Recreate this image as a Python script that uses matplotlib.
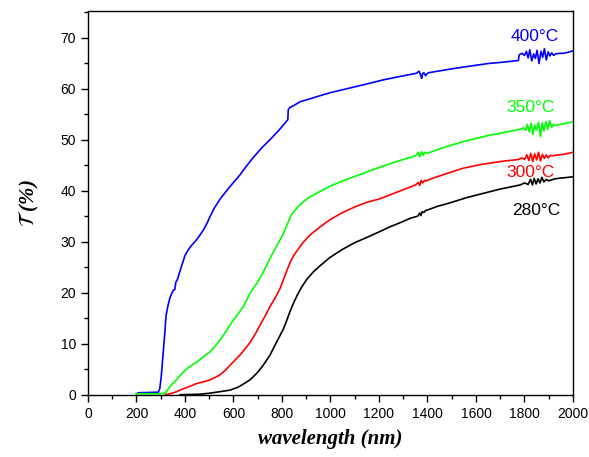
import matplotlib
matplotlib.use('Agg')
import matplotlib.pyplot as plt
from matplotlib.ticker import MultipleLocator

plt.rc('font', family='Liberation Sans')
plt.rc('mathtext', fontset='stix')

# 400 C film
x_400 = [200, 210, 220, 290, 296, 302, 308, 315, 322, 330, 338, 345, 352, 358, 362, 370, 379, 390, 400, 415,
         428, 445, 462, 476, 490, 503, 520, 544, 572, 600, 627, 655, 682, 715, 751, 785, 819, 824, 826, 833,
         850, 874, 910, 943, 1000, 1080, 1150, 1218, 1290, 1355, 1365, 1372, 1376, 1380, 1385, 1392, 1398, 1405,
         1430, 1493, 1562, 1650, 1720, 1775, 1778, 1790, 1800, 1808, 1815, 1822, 1830, 1838, 1845, 1852, 1860,
         1868, 1875, 1882, 1890, 1898, 1905, 1912, 1920, 1930, 1945, 1960, 1980, 2000]
T_400 = [0.2, 0.4, 0.4, 0.5, 1.2, 3.5, 7, 11, 15.5, 17.5, 19, 19.8, 20.5, 20.6, 22, 22.7, 24.2, 25.8, 27.3, 28.5,
         29.3, 30.2, 31.3, 32.3, 33.5, 34.9, 36.5, 38.3, 40.0, 41.6, 43.1, 44.9, 46.5, 48.3, 50.0, 51.7, 53.6, 53.9, 55.9, 56.3,
         56.7, 57.4, 57.9, 58.4, 59.2, 60.1, 60.9, 61.7, 62.4, 63.0, 63.4, 62.6, 62.0, 62.9, 63.1, 62.5, 62.9, 63.1,
         63.3, 63.8, 64.3, 64.9, 65.2, 65.5, 66.6, 66.9, 66.5, 67.3, 66.0, 67.6, 65.4, 66.8, 65.9, 67.5, 64.9,
         67.3, 66.1, 67.8, 65.6, 67.2, 66.4, 67.0, 66.5, 66.8, 66.9, 66.9, 67.1, 67.4]

# 350 C film
x_350 = [200, 250, 300, 318, 328, 338, 349, 359, 369, 379, 390, 405, 428, 445, 462, 480, 503, 520, 544, 565,
         586, 612, 641, 668, 696, 723, 751, 779, 806, 826, 840, 867, 890, 916, 960, 1000, 1067, 1130, 1204, 1280,
         1350, 1362, 1368, 1375, 1382, 1390, 1400, 1450, 1548, 1650, 1750, 1782, 1795, 1805, 1812, 1820, 1828,
         1835, 1842, 1850, 1858, 1866, 1873, 1880, 1888, 1896, 1904, 1912, 1920, 1930, 1950, 1975, 2000]
T_350 = [0.2, 0.2, 0.2, 0.3, 0.9, 1.6, 2.2, 2.6, 3.2, 3.7, 4.3, 5.0, 5.8, 6.3, 6.9, 7.6, 8.4, 9.3, 10.7, 12.1,
         13.7, 15.4, 17.3, 19.9, 21.8, 24.0, 26.8, 29.2, 31.6, 33.9, 35.4, 36.9, 37.9, 38.8, 39.9, 40.9, 42.2, 43.3, 44.6, 45.8,
         46.8, 47.5, 46.6, 47.6, 46.9, 47.5, 47.3, 48.2, 49.6, 50.8, 51.7, 52.0, 52.3, 51.8, 53.0, 51.5, 53.2,
         51.0, 52.8, 51.9, 53.4, 50.6, 53.3, 51.7, 53.5, 52.0, 53.7, 52.4, 52.9, 52.8, 53.0, 53.2, 53.5]

# 300 C film
x_300 = [320, 340, 366, 385, 407, 428, 448, 475, 503, 525, 544, 565, 586, 607, 627, 648, 668, 690, 709, 730,
         751, 772, 792, 812, 833, 850, 874, 888, 916, 960, 998, 1050, 1100, 1150, 1204, 1280, 1350, 1362, 1368,
         1374, 1380, 1388, 1395, 1420, 1470, 1548, 1620, 1700, 1775, 1790, 1800, 1810, 1818, 1826, 1834, 1842,
         1850, 1858, 1866, 1874, 1882, 1890, 1898, 1906, 1915, 1925, 1940, 1960, 1980, 2000]
T_300 = [0.0, 0.2, 0.6, 1.0, 1.4, 1.8, 2.2, 2.5, 2.9, 3.4, 3.9, 4.7, 5.8, 6.8, 7.8, 9.0, 10.2, 11.9, 13.6, 15.4,
         17.3, 19.0, 20.8, 23.3, 25.9, 27.4, 29.0, 29.9, 31.3, 33.0, 34.3, 35.7, 36.8, 37.7, 38.4, 39.8, 41.1, 41.6, 41.0,
         42.0, 41.5, 42.0, 41.9, 42.4, 43.2, 44.4, 45.1, 45.7, 46.1, 46.4, 46.1, 47.0, 45.9, 47.3, 45.7, 47.2,
         46.0, 47.5, 45.8, 47.1, 46.3, 47.0, 46.4, 46.9, 46.8, 46.9, 47.0, 47.1, 47.3, 47.5]

# 280 C film
x_280 = [380, 420, 460, 503, 545, 586, 620, 641, 668, 696, 720, 737, 751, 770, 792, 806, 820, 833, 847, 865,
         880, 902, 930, 960, 998, 1050, 1100, 1149, 1200, 1250, 1287, 1330, 1360, 1368, 1373, 1378, 1385, 1392,
         1400, 1440, 1493, 1560, 1617, 1700, 1782, 1800, 1815, 1825, 1833, 1840, 1848, 1856, 1864, 1872, 1880,
         1890, 1900, 1912, 1925, 1940, 1960, 1980, 2000]
T_280 = [0.0, 0.05, 0.1, 0.3, 0.6, 0.9, 1.5, 2.1, 2.9, 4.2, 5.6, 6.8, 7.8, 9.6, 11.6, 12.9, 14.6, 16.3, 17.9, 19.7,
         21.0, 22.6, 24.1, 25.4, 26.9, 28.5, 29.8, 30.8, 31.9, 33.0, 33.7, 34.6, 35.0, 35.6, 35.1, 35.9, 35.7, 36.1,
         36.2, 36.9, 37.6, 38.6, 39.3, 40.3, 41.1, 41.5, 41.2, 42.2, 41.1, 42.4, 41.3, 42.3, 41.5, 42.6, 41.7,
         42.2, 41.9, 42.1, 42.3, 42.4, 42.5, 42.6, 42.7]

labels = ['400°C', '350°C', '300°C', '280°C']
label_pos = [(1843, 70.1), (1823, 56.2), (1823, 43.6), (1848, 36.1)]
colors = ['#0000ff', '#00ff00', '#ff0000', 'black']

fig = plt.figure(figsize=(5.89, 4.57), dpi=100)
ax = fig.add_axes([0.1494, 0.1363, 0.8234, 0.8397])

series = [(x_400, T_400), (x_350, T_350), (x_300, T_300), (x_280, T_280)]
for (xs, ys), c in zip(series, colors):
    ax.plot(xs, ys, color=c, linewidth=1.2)

for lab, (lx, ly), c in zip(labels, label_pos, colors):
    ax.text(lx, ly, lab, color=c, fontsize=12.5, ha='center', va='center')

ax.set_xlim(0, 2000)
ax.set_ylim(0, 75.2)
ax.xaxis.set_major_locator(MultipleLocator(200))
ax.xaxis.set_minor_locator(MultipleLocator(100))
ax.yaxis.set_major_locator(MultipleLocator(10))
ax.yaxis.set_minor_locator(MultipleLocator(5))
ax.tick_params(which='both', direction='out', top=False, right=False, labelsize=10, width=1)
ax.tick_params(which='major', length=5)
ax.tick_params(which='minor', length=3)
for s in ax.spines.values():
    s.set_linewidth(1)

ax.set_xlabel('wavelength (nm)', fontsize=15, family='Liberation Serif', weight='bold', style='italic', labelpad=6)
ax.set_ylabel(r'$\mathcal{T}$ (%)', fontsize=15, family='Liberation Serif', weight='bold', style='italic', labelpad=14)

fig.savefig('out.png', dpi=100)
